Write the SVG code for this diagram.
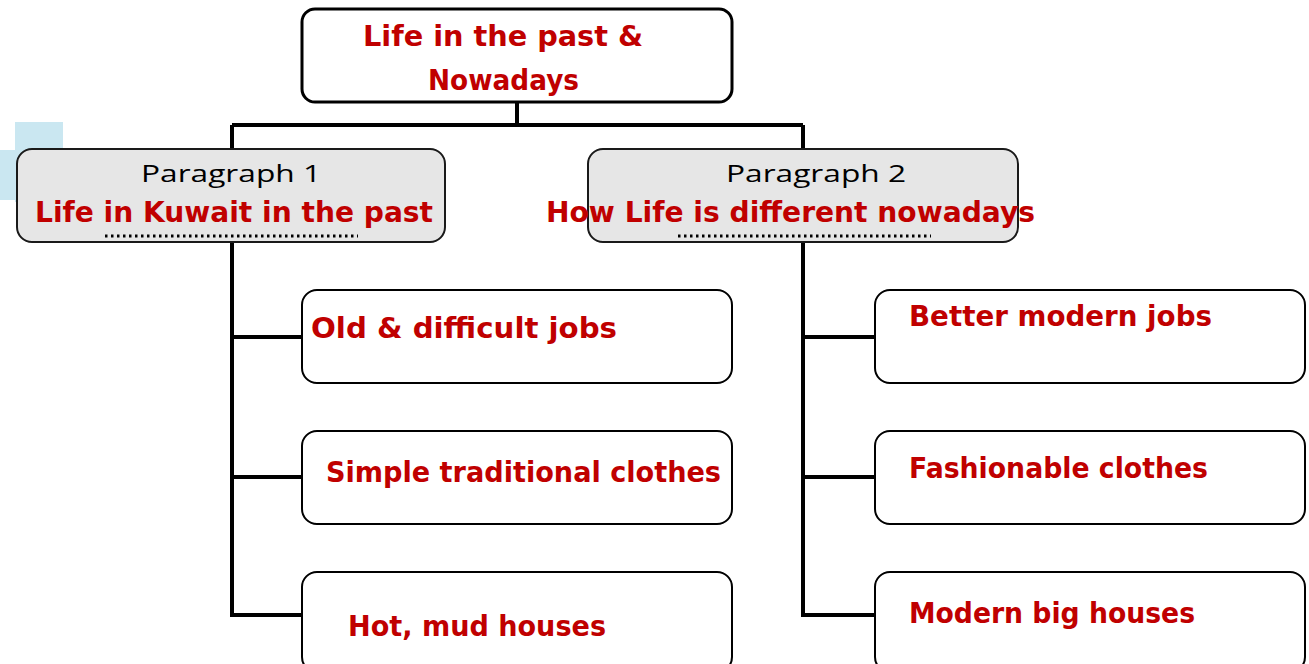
<svg xmlns="http://www.w3.org/2000/svg" width="1309" height="664" viewBox="0 0 1309 664">
<style>
.box{fill:#ffffff;stroke:#000000;stroke-width:2}
.top{fill:#ffffff;stroke:#000000;stroke-width:3}
.par{fill:#e6e6e6;stroke:#1a1a1a;stroke-width:2}
.red{font-family:"Comic Sans MS","DejaVu Sans",sans-serif;font-weight:bold;font-size:28px;fill:#c00000}
.blk{font-family:"Open Sans","Liberation Sans",sans-serif;font-size:24px;fill:#000000}
.conn{fill:none;stroke:#000000;stroke-width:4}
.dots{stroke:#000000;stroke-width:3;stroke-dasharray:2.5 3.5}
.wm{fill:#9fd3e6;opacity:0.55}
</style>
<g id="watermark">
<rect class="wm" x="15" y="122" width="48" height="80"/>
<rect class="wm" x="0" y="150" width="15" height="50"/>
</g>
<g id="connectors">
<path class="conn" d="M517 102 V125 M232 125 H803 M232 125 V615 H302 M232 337 H302 M232 477 H302 M803 125 V615 H875 M803 337 H875 M803 477 H875"/>
</g>
<g id="n-top">
<rect class="top" x="302" y="9" width="430" height="93" rx="13"/>
<text class="red" x="363" y="46" textLength="280" lengthAdjust="spacingAndGlyphs">Life in the past &amp;</text>
<text class="red" x="428" y="90" textLength="151" lengthAdjust="spacingAndGlyphs">Nowadays</text>
</g>
<g id="n-p1">
<rect class="par" x="17" y="149" width="428" height="93" rx="15"/>
<text class="blk" x="141" y="182" textLength="180" lengthAdjust="spacingAndGlyphs">Paragraph 1</text>
<text class="red" x="35" y="222" textLength="398" lengthAdjust="spacingAndGlyphs">Life in Kuwait in the past</text>
<line class="dots" x1="105" y1="236" x2="358" y2="236"/>
</g>
<g id="n-p2">
<rect class="par" x="588" y="149" width="430" height="93" rx="15"/>
<text class="blk" x="726" y="182" textLength="180" lengthAdjust="spacingAndGlyphs">Paragraph 2</text>
<text class="red" x="546" y="222" textLength="489" lengthAdjust="spacingAndGlyphs">How Life is different nowadays</text>
<line class="dots" x1="678" y1="236" x2="931" y2="236"/>
</g>
<g id="n-l1">
<rect class="box" x="302" y="290" width="430" height="93" rx="15"/>
<text class="red" x="311" y="338" textLength="306" lengthAdjust="spacingAndGlyphs">Old &amp; difficult jobs</text>
</g>
<g id="n-l2">
<rect class="box" x="302" y="431" width="430" height="93" rx="15"/>
<text class="red" x="326" y="482" textLength="395" lengthAdjust="spacingAndGlyphs">Simple traditional clothes</text>
</g>
<g id="n-l3">
<rect class="box" x="302" y="572" width="430" height="100" rx="15"/>
<text class="red" x="348" y="636" textLength="258" lengthAdjust="spacingAndGlyphs">Hot, mud houses</text>
</g>
<g id="n-r1">
<rect class="box" x="875" y="290" width="430" height="93" rx="15"/>
<text class="red" x="909" y="326" textLength="303" lengthAdjust="spacingAndGlyphs">Better modern jobs</text>
</g>
<g id="n-r2">
<rect class="box" x="875" y="431" width="430" height="93" rx="15"/>
<text class="red" x="909" y="478" textLength="299" lengthAdjust="spacingAndGlyphs">Fashionable clothes</text>
</g>
<g id="n-r3">
<rect class="box" x="875" y="572" width="430" height="100" rx="15"/>
<text class="red" x="909" y="623" textLength="286" lengthAdjust="spacingAndGlyphs">Modern big houses</text>
</g>
</svg>
